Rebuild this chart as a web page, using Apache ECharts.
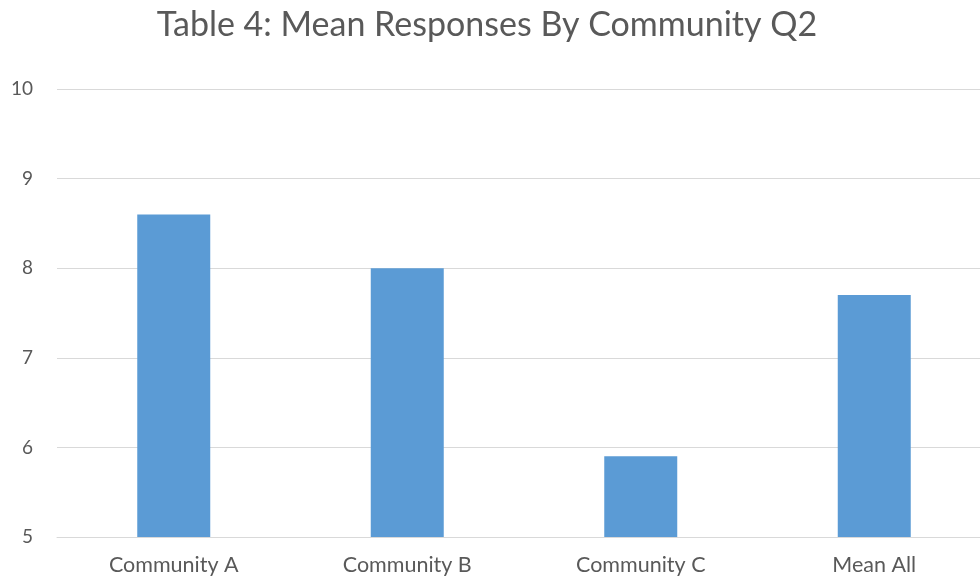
<!DOCTYPE html>
<html>
<head>
<meta charset="utf-8">
<script src="https://cdn.jsdelivr.net/npm/echarts@6/dist/echarts.min.js"></script>
<style>
  html, body { margin: 0; padding: 0; background: #fff; overflow: hidden; }
  /* the plot runs slightly past the right edge of the page, so the canvas is wider than the window */
  #chart { width: 1000px; height: 579px; }
</style>
</head>
<body>
<div id="chart"></div>
<script>
// Mean responses per community for question 2
const categories = ['Community A', 'Community B', 'Community C', 'Mean All'];
const meanValues = [8.6, 8.0, 5.9, 7.7];
const yTicks = { min: 5, max: 10, interval: 1 };

const FONT = 'Lato, "Open Sans", sans-serif';
const chart = echarts.init(document.getElementById('chart'));
chart.setOption({
  animation: false,
  backgroundColor: '#ffffff',
  title: {
    text: 'Table 4: Mean Responses By Community Q2',
    left: 482,
    textAlign: 'center',
    top: 3,
    textStyle: { fontFamily: FONT, fontSize: 34, fontWeight: 'normal', color: '#595959' }
  },
  grid: { left: 57, top: 89, width: 934, height: 448, containLabel: false },
  xAxis: {
    type: 'category',
    data: categories,
    axisLine: { show: true, lineStyle: { color: '#d9d9d9', width: 1 } },
    axisTick: { show: false },
    axisLabel: { margin: 17, fontFamily: FONT, fontSize: 21.5, color: '#595959' }
  },
  yAxis: {
    type: 'value',
    min: yTicks.min,
    max: yTicks.max,
    interval: yTicks.interval,
    axisLine: { show: false },
    axisTick: { show: false },
    axisLabel: { margin: 24, fontFamily: FONT, fontSize: 19, color: '#595959' },
    splitLine: { lineStyle: { color: '#d9d9d9', width: 1 } }
  },
  series: [{
    type: 'bar',
    data: meanValues,
    barWidth: 73,
    itemStyle: { color: '#5b9bd5' }
  }]
});
</script>
</body>
</html>
